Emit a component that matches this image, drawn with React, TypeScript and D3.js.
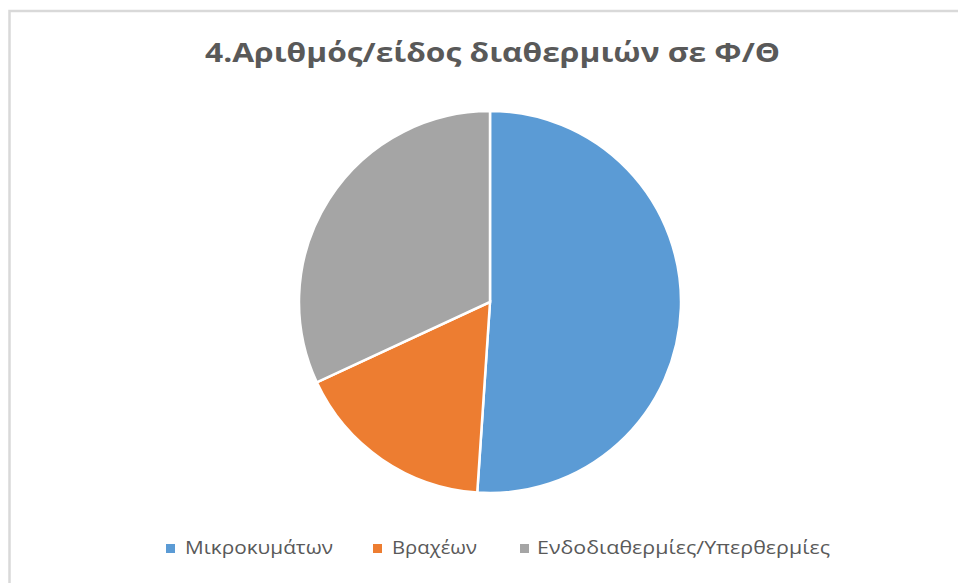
import React from "react";
import * as d3 from "d3";

const categories = ["Μικροκυμάτων", "Βραχέων", "Ενδοδιαθερμίες/Υπερθερμίες"];
const values = [24, 8, 15];
const colors = ["#5B9BD5", "#ED7D31", "#A5A5A5"];
const title = "4.Αριθμός/είδος διαθερμιών σε Φ/Θ";

const W = 958;
const H = 583;

export default function App() {
  const cx = 490;
  const cy = 302;
  const r = 191;
  const pie = d3.pie<number>().sort(null).value((d) => d)(values);
  const arc = d3.arc<d3.PieArcDatum<number>>().innerRadius(0).outerRadius(r);

  const legendMarkerX = [166, 373, 520];
  const legendTextX = [185, 392, 537];
  const legendTextLen = [148, 85, 293];

  return (
    <svg
      width={W}
      height={H}
      style={{ position: "absolute", left: 0, top: 0, background: "#fff" }}
      fontFamily="'Open Sans', 'Noto Sans', sans-serif"
    >
      <rect x={9.5} y={11} width={W + 20} height={H + 20} fill="#fff" stroke="#d9d9d9" strokeWidth={2.5} />
      <text
        x={205}
        y={62}
        fontSize={27}
        fontWeight="bold"
        fill="#595959"
        textLength={575}
        lengthAdjust="spacingAndGlyphs"
      >
        {title}
      </text>
      <g transform={`translate(${cx},${cy})`}>
        {pie.map((p, i) => (
          <path key={i} d={arc(p) || ""} fill={colors[i]} stroke="#fff" strokeWidth={2.5} />
        ))}
      </g>
      {categories.map((c, i) => (
        <g key={c}>
          <rect x={legendMarkerX[i]} y={544} width={9} height={9} fill={colors[i]} />
          <text
            x={legendTextX[i]}
            y={554}
            fontSize={19}
            fill="#595959"
            textLength={legendTextLen[i]}
            lengthAdjust="spacingAndGlyphs"
          >
            {c}
          </text>
        </g>
      ))}
    </svg>
  );
}
